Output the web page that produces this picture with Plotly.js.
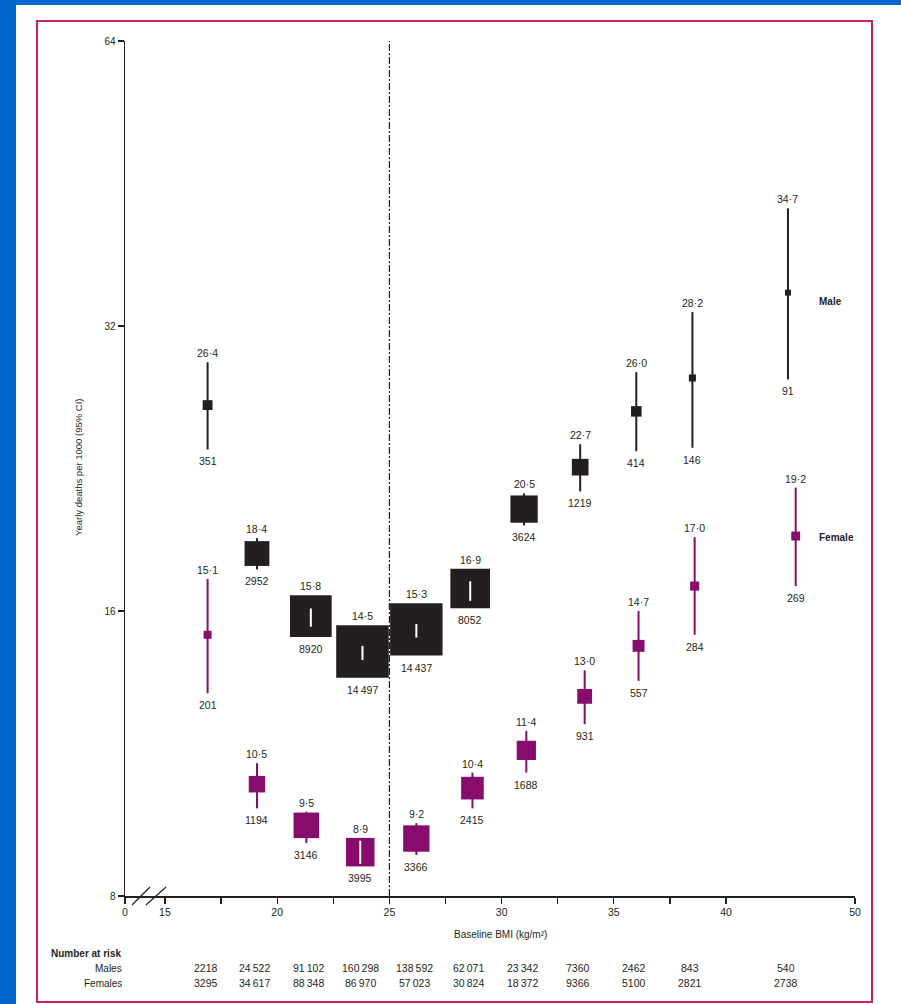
<!DOCTYPE html>
<html>
<head>
<meta charset="utf-8">
<script src="https://cdn.plot.ly/plotly-3.0.1.min.js"></script>
<style>
  html, body { margin: 0; padding: 0; width: 901px; height: 1004px; overflow: hidden; background: #0066cc; }
  #panel { position: absolute; left: 16px; top: 5px; right: 0; bottom: 0; background: #ffffff; }
  #frame { position: absolute; left: 36px; top: 20px; width: 837px; height: 983px; box-sizing: border-box; border: 2px solid #c9235a; }
  #chart { position: absolute; left: 0; top: 0; width: 901px; height: 1004px; }
</style>
</head>
<body>
<div id="panel"></div>
<div id="frame"></div>
<div id="chart"></div>
<script>
// ---------------- data ----------------
const bmiMale      = [16.9, 19.1, 21.5, 23.8, 26.2, 28.6, 31.0, 33.5, 36.0, 38.5, 44.8];
const rateMale     = [26.4, 18.4, 15.8, 14.5, 15.3, 16.9, 20.5, 22.7, 26.0, 28.2, 34.7];
const lowMale      = [23.7, 17.7, 15.4, 14.2, 15.0, 16.4, 19.7, 21.4, 23.6, 23.8, 28.1];
const highMale     = [29.3, 19.1, 16.1, 14.7, 15.5, 17.2, 21.3, 24.0, 28.6, 33.1, 42.6];
const deathsMale   = [351, 2952, 8920, 14497, 14437, 8052, 3624, 1219, 414, 146, 91];

const bmiFemale    = [16.9, 19.1, 21.3, 23.7, 26.2, 28.7, 31.1, 33.7, 36.1, 38.6, 45.4];
const rateFemale   = [15.1, 10.5, 9.5, 8.9, 9.2, 10.4, 11.4, 13.0, 14.7, 17.0, 19.2];
const lowFemale    = [13.1, 9.9, 9.1, 8.65, 8.84, 9.9, 10.8, 12.15, 13.5, 15.1, 17.0];
const highFemale   = [17.3, 11.05, 9.82, 9.15, 9.55, 10.8, 11.95, 13.85, 16.0, 19.15, 21.6];
const deathsFemale = [201, 1194, 3146, 3995, 3366, 2415, 1688, 931, 557, 284, 269];

const atRiskMales   = [2218, 24522, 91102, 160298, 138592, 62071, 23342, 7360, 2462, 843, 540];
const atRiskFemales = [3295, 34617, 88348, 86970, 57023, 30824, 18372, 9366, 5100, 2821, 2738];

const xTickVals   = [0, 15, 17.5, 20, 22.5, 25, 27.5, 30, 32.5, 35, 37.5, 40, 50];
const xTickLabels = ['0', '15', '', '20', '', '25', '', '30', '', '35', '', '40', '50'];
const yTickVals   = [8, 16, 32, 64];

// ---------------- styling / helpers ----------------
const BLACK = '#231f20';
const PURPLE = '#870c6c';
const FONT = 'Liberation Sans, Arial, sans-serif';
const PX_PER_LOG2 = 855 / 3;           // plot height / number of doublings (8..64)

// broken / compressed BMI axis: 0 sits just before the break, 40-50 compressed
function tx(b) {
  if (b <= 0) return 13.22;
  if (b > 40) return 40 + (b - 40) * 0.5744;
  return b;
}
const boxSize = d => 2 + 0.42 * Math.sqrt(d);
const fmtRate = v => v.toFixed(1).replace('.', '\u00b7');
const fmtN = n => n >= 10000 ? String(n).replace(/\B(?=(\d{3})+(?!\d))/g, '\u2009') : String(n);

const traces = [];
const annotations = [];

function addSeries(bmi, rate, low, high, deaths, color) {
  const xs = bmi.map(tx);
  const sizes = deaths.map(boxSize);
  const ciX = [], ciY = [], wX = [], wY = [];
  xs.forEach((x, i) => {
    const half = sizes[i] / 2;
    const up = PX_PER_LOG2 * Math.log2(high[i] / rate[i]);
    const dn = PX_PER_LOG2 * Math.log2(rate[i] / low[i]);
    ciX.push(x, x, null); ciY.push(low[i], high[i], null);
    if (up < half && dn < half) { wX.push(x, x, null); wY.push(low[i], high[i], null); }
    const boxTop = rate[i] * Math.pow(2, half / PX_PER_LOG2);
    const boxBot = rate[i] / Math.pow(2, half / PX_PER_LOG2);
    const top = Math.max(high[i], boxTop);
    const bot = Math.min(low[i], boxBot);
    annotations.push({
      x: x, y: Math.log10(top), xref: 'x', yref: 'y', text: fmtRate(rate[i]),
      showarrow: false, xanchor: 'center', yanchor: 'bottom', yshift: 1,
      font: { family: FONT, size: 10.5, color: BLACK }
    });
    annotations.push({
      x: x, y: Math.log10(bot), xref: 'x', yref: 'y', text: fmtN(deaths[i]),
      showarrow: false, xanchor: 'center', yanchor: 'top', yshift: -4,
      font: { family: FONT, size: 10.5, color: BLACK }
    });
  });
  traces.push({ x: ciX, y: ciY, mode: 'lines', line: { color: color, width: 2 }, hoverinfo: 'skip', type: 'scatter' });
  traces.push({ x: xs, y: rate, mode: 'markers', type: 'scatter',
    marker: { symbol: 'square', size: sizes, color: color, opacity: 1, line: { width: 0 } } });
  if (wX.length) traces.push({ x: wX, y: wY, mode: 'lines', line: { color: '#ffffff', width: 2 }, hoverinfo: 'skip', type: 'scatter' });
}

addSeries(bmiMale, rateMale, lowMale, highMale, deathsMale, BLACK);
addSeries(bmiFemale, rateFemale, lowFemale, highFemale, deathsFemale, PURPLE);

function paperText(px, py, text, opts) {
  annotations.push(Object.assign({
    xref: 'paper', yref: 'paper', x: (px - 125) / 730, y: (896 - py) / 855,
    xanchor: 'center', yanchor: 'middle', text: text, showarrow: false,
    font: { family: FONT, size: 10, color: BLACK }
  }, opts || {}));
}

// series labels
paperText(817, 301, '<b>Male</b>', { xanchor: 'left' });
paperText(817, 537, '<b>Female</b>', { xanchor: 'left' });

// axis titles
paperText(79, 468, 'Yearly deaths per 1000 (95% CI)', { textangle: -90, font: { family: FONT, size: 9.5, color: BLACK } });
paperText(500, 935, 'Baseline BMI (kg/m\u00b2)');

// number at risk table
paperText(49, 953, '<b>Number at risk</b>', { xanchor: 'left' });
paperText(124, 968, 'Males', { xanchor: 'right' });
paperText(124, 983, 'Females', { xanchor: 'right' });
bmiMale.forEach((b, i) => {
  annotations.push({ xref: 'x', yref: 'paper', x: tx(b), y: (896 - 968) / 855, xshift: -2,
    xanchor: 'center', yanchor: 'middle',
    text: fmtN(atRiskMales[i]), showarrow: false, font: { family: FONT, size: 10.5, color: BLACK } });
  annotations.push({ xref: 'x', yref: 'paper', x: tx(b), y: (896 - 983) / 855, xshift: -2,
    xanchor: 'center', yanchor: 'middle',
    text: fmtN(atRiskFemales[i]), showarrow: false, font: { family: FONT, size: 10.5, color: BLACK } });
});

const shapes = [
  // reference line at BMI 25
  { type: 'line', xref: 'x', yref: 'paper', x0: tx(25), x1: tx(25), y0: 0, y1: 1, layer: 'below',
    line: { color: BLACK, width: 1.2, dash: '7px,2px,2px,2px' } },
  // axis break marks
  { type: 'line', xref: 'paper', yref: 'paper', x0: (132 - 125) / 730, y0: (896 - 905) / 855, x1: (150 - 125) / 730, y1: (896 - 887) / 855,
    line: { color: BLACK, width: 1.2 } },
  { type: 'line', xref: 'paper', yref: 'paper', x0: (146 - 125) / 730, y0: (896 - 905) / 855, x1: (166 - 125) / 730, y1: (896 - 887) / 855,
    line: { color: BLACK, width: 1.2 } }
];

const layout = {
  width: 901, height: 1004,
  margin: { l: 125, r: 46, t: 41, b: 108, pad: 0 },
  paper_bgcolor: 'rgba(0,0,0,0)', plot_bgcolor: 'rgba(0,0,0,0)',
  showlegend: false,
  font: { family: FONT, size: 10.5, color: BLACK },
  xaxis: {
    range: [tx(0), tx(50)], tickmode: 'array', tickvals: xTickVals.map(tx), ticktext: xTickLabels,
    showline: true, linecolor: BLACK, linewidth: 1.5, ticks: 'outside', ticklen: 6, tickwidth: 1.3, tickcolor: BLACK,
    showgrid: false, zeroline: false, fixedrange: true, tickfont: { family: FONT, size: 10.5, color: BLACK }
  },
  yaxis: {
    type: 'log', range: [Math.log10(8), Math.log10(64)], tickmode: 'array', tickvals: yTickVals,
    ticktext: yTickVals.map(String),
    showline: true, linecolor: BLACK, linewidth: 1.5, ticks: 'outside', ticklen: 6, tickwidth: 1.3, tickcolor: BLACK,
    showgrid: false, zeroline: false, fixedrange: true, tickfont: { family: FONT, size: 10, color: BLACK }
  },
  shapes: shapes,
  annotations: annotations
};

Plotly.newPlot('chart', traces, layout, { displayModeBar: false, staticPlot: true });
</script>
</body>
</html>
